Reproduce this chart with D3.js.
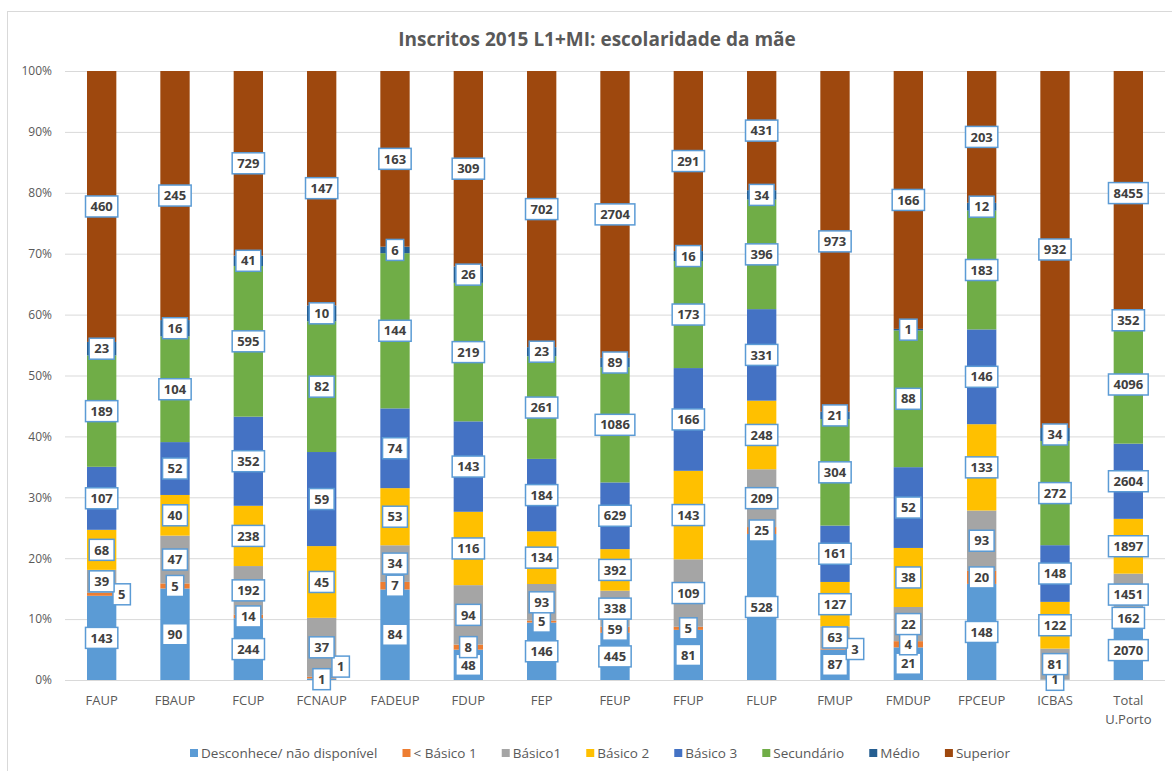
<!DOCTYPE html>
<html><head><meta charset="utf-8">
<script src="https://cdn.jsdelivr.net/npm/d3@7"></script>
<style>body{margin:0;background:#fff} svg{display:block}</style>
</head><body><svg id="c" width="1172" height="771"></svg>
<script>
const title = "Inscritos 2015 L1+MI: escolaridade da mãe";
const categories = ["FAUP","FBAUP","FCUP","FCNAUP","FADEUP","FDUP","FEP","FEUP","FFUP","FLUP","FMUP","FMDUP","FPCEUP","ICBAS","Total U.Porto"];
const seriesNames = ["Desconhece/ não disponível","< Básico 1","Básico1","Básico 2","Básico 3","Secundário","Médio","Superior"];
const desconhece   = [143, 90, 244, 1, 84, 48, 146, 445, 81, 528, 87, 21, 148, 1, 2070];
const menosBasico1 = [5, 5, 14, 1, 7, 8, 5, 59, 5, 25, 3, 4, 20, 0, 162];
const basico1      = [39, 47, 192, 37, 34, 94, 93, 338, 109, 209, 63, 22, 93, 81, 1451];
const basico2      = [68, 40, 238, 45, 53, 116, 134, 392, 143, 248, 127, 38, 133, 122, 1897];
const basico3      = [107, 52, 352, 59, 74, 143, 184, 629, 166, 331, 161, 52, 146, 148, 2604];
const secundario   = [189, 104, 595, 82, 144, 219, 261, 1086, 173, 396, 304, 88, 183, 272, 4096];
const medio        = [23, 16, 41, 10, 6, 26, 23, 89, 16, 34, 21, 1, 12, 34, 352];
const superior     = [460, 245, 729, 147, 163, 309, 702, 2704, 291, 431, 973, 166, 203, 932, 8455];
const yTickValues  = [0, 0.1, 0.2, 0.3, 0.4, 0.5, 0.6, 0.7, 0.8, 0.9, 1];

const seriesValues = [desconhece, menosBasico1, basico1, basico2, basico3, secundario, medio, superior];
const colors = ["#5B9BD5","#ED7D31","#A5A5A5","#FFC000","#4472C4","#70AD47","#255E91","#9E480E"];
// manual nudges of a few data labels (as moved in the original)
const labelNudge = {"FAUP|1":[20,0], "FCNAUP|1":[19,-11], "FMUP|1":[20,0]};

const FONT = "'Open Sans', 'Liberation Sans', sans-serif";
const svg = d3.select("#c").style("font-family", FONT);

// frame
svg.append("rect").attr("x",7.5).attr("y",11.5).attr("width",1200).attr("height",800)
  .attr("fill","#fff").attr("stroke","#D9D9D9").attr("stroke-width",1);

const plot = {left:65, right:1165, top:71, bottom:680};

const rows = categories.map((c,i) => {
  const r = {cat:c};
  seriesNames.forEach((s,j) => r[s] = seriesValues[j][i]);
  return r;
});
const stacked = d3.stack().keys(seriesNames).offset(d3.stackOffsetExpand)(rows);

const x = d3.scaleBand().domain(categories).range([plot.left, plot.right])
  .paddingInner(0.6).paddingOuter(0.3);
const y = d3.scaleLinear().domain([0,1]).range([plot.bottom, plot.top]);

// title
svg.append("text").attr("x",597).attr("y",46).attr("text-anchor","middle")
  .attr("font-size",19).attr("font-weight",700).attr("fill","#595959").text(title);

// y axis + gridlines
const yAxis = svg.append("g").attr("transform",`translate(${plot.left},0)`)
  .call(d3.axisLeft(y).tickValues(yTickValues).tickFormat(d3.format(".0%"))
    .tickSize(-(plot.right-plot.left)).tickPadding(13));
yAxis.select(".domain").remove();
yAxis.selectAll("line").attr("stroke","#D9D9D9").attr("stroke-width",1);
yAxis.selectAll("text").attr("fill","#595959").attr("font-size",12).attr("font-family",FONT);

// x axis labels
const xAxis = svg.append("g").attr("transform",`translate(0,${plot.bottom})`)
  .call(d3.axisBottom(x).tickSize(0).tickPadding(0));
xAxis.select(".domain").remove();
xAxis.selectAll("text").attr("fill","#595959").attr("font-size",13).attr("font-family",FONT)
  .attr("dy",null).attr("y",25)
  .each(function(d){
    const t = d3.select(this);
    const parts = d.split(" ");
    if (parts.length > 1) {
      t.text(null);
      parts.forEach((p,k) => t.append("tspan").attr("x",0).attr("y",25 + k*19).text(p));
    }
  });

// bars
const layers = svg.append("g").selectAll("g").data(stacked).join("g")
  .attr("fill",(d,i) => colors[i]);
layers.selectAll("rect").data(d => d).join("rect")
  .attr("x", d => x(d.data.cat))
  .attr("width", x.bandwidth())
  .attr("y", d => y(d[1]))
  .attr("height", d => Math.max(0, y(d[0]) - y(d[1])));

// data labels
const lab = svg.append("g");
stacked.forEach((layer, si) => {
  layer.forEach((d) => {
    const v = d.data[layer.key];
    if (!v) return;
    const nud = labelNudge[d.data.cat + "|" + si] || [0,0];
    const cx = x(d.data.cat) + x.bandwidth()/2 + nud[0];
    const cy = (y(d[0]) + y(d[1]))/2 + nud[1];
    const g = lab.append("g");
    const rect = g.append("rect");
    const t = g.append("text").attr("x",cx).attr("y",cy).attr("dy","0.36em")
      .attr("text-anchor","middle").attr("font-size",13).attr("font-weight",700)
      .attr("fill","#404040").text(d3.format("d")(v));
    const w = t.node().getComputedTextLength() + 10;
    const h = 21;
    rect.attr("x",cx - w/2).attr("y",cy - h/2).attr("width",w).attr("height",h)
      .attr("fill","#fff").attr("stroke","#5B9BD5").attr("stroke-width",1.5);
  });
});

// legend
const leg = svg.append("g").attr("font-size",13.5).attr("fill","#595959");
const items = [];
seriesNames.forEach((s,i) => {
  const g = leg.append("g");
  g.append("rect").attr("x",0).attr("y",-4).attr("width",8).attr("height",8).attr("fill",colors[i]);
  const t = g.append("text").attr("x",11).attr("y",0).attr("dy","0.35em").text(s);
  const w = 11 + t.node().getComputedTextLength();
  items.push({g, w});
});
const legendSpan = 820;
const gap = (legendSpan - d3.sum(items, d => d.w)) / (items.length - 1);
let lx = 190;
items.forEach(it => { it.g.attr("transform",`translate(${lx},753)`); lx += it.w + gap; });
</script>
</body></html>
